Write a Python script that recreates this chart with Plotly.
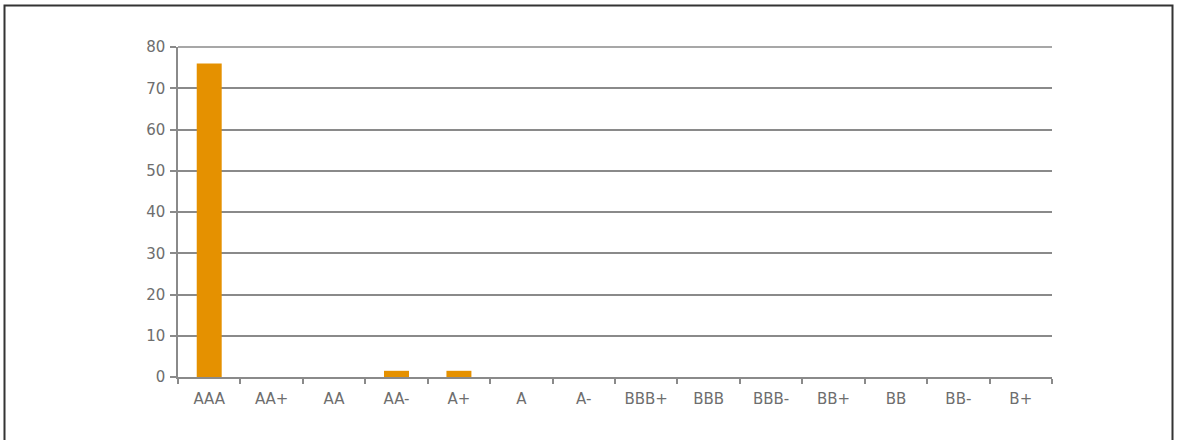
import plotly.graph_objects as go

ratings = ["AAA", "AA+", "AA", "AA-", "A+", "A", "A-", "BBB+", "BBB", "BBB-", "BB+", "BB", "BB-", "B+"]
shares = [76, 0, 0, 1.5, 1.5, 0, 0, 0, 0, 0, 0, 0, 0, 0]
y_max = 80

W, H = 1177, 440
L, R, T, B = 178, 125, 47, 63
pw, ph = W - L - R, H - T - B

def px_x(x):
    return (x - L) / pw

def px_y(y):
    return (H - B - y) / ph

fig = go.Figure(go.Bar(
    x=ratings, y=shares,
    marker=dict(color="#E59100", line=dict(width=0)),
    hoverinfo="x+y",
))

grey = "#8a8a8a"
fig.update_layout(
    width=W, height=H,
    margin=dict(l=L, r=R, t=T, b=B),
    paper_bgcolor="white", plot_bgcolor="white",
    bargap=0.6,
    showlegend=False,
    font=dict(family="DejaVu Sans, Verdana, sans-serif", size=15, color="#6e6e6e"),
    xaxis=dict(
        type="category", tickson="boundaries", ticks="outside", ticklen=5,
        tickcolor=grey, tickwidth=1.5, showline=True, linecolor=grey, linewidth=1.5,
        showgrid=False, tickfont=dict(size=15), ticklabelstandoff=7,
    ),
    yaxis=dict(
        range=[0, y_max], tickvals=list(range(0, y_max + 1, 10)), ticks="outside",
        ticklen=6, tickcolor=grey, tickwidth=1.5,
        showline=True, linecolor=grey, linewidth=1.5,
        showgrid=True, gridcolor=grey, gridwidth=1.5, zeroline=False,
        tickfont=dict(size=15), ticklabelstandoff=2,
    ),
    shapes=[
        # top gridline along the upper edge of the plot area
        dict(type="line", xref="paper", yref="paper", x0=0, x1=1, y0=1, y1=1,
             line=dict(color=grey, width=1.5), layer="above"),
        # frame around the chart
        dict(type="rect", xref="paper", yref="paper",
             x0=px_x(4.5), x1=px_x(1172.5), y0=px_y(450), y1=px_y(5.5),
             line=dict(color="#333333", width=2), fillcolor="rgba(0,0,0,0)",
             layer="below"),
    ],
)

fig.write_html("out.html")
